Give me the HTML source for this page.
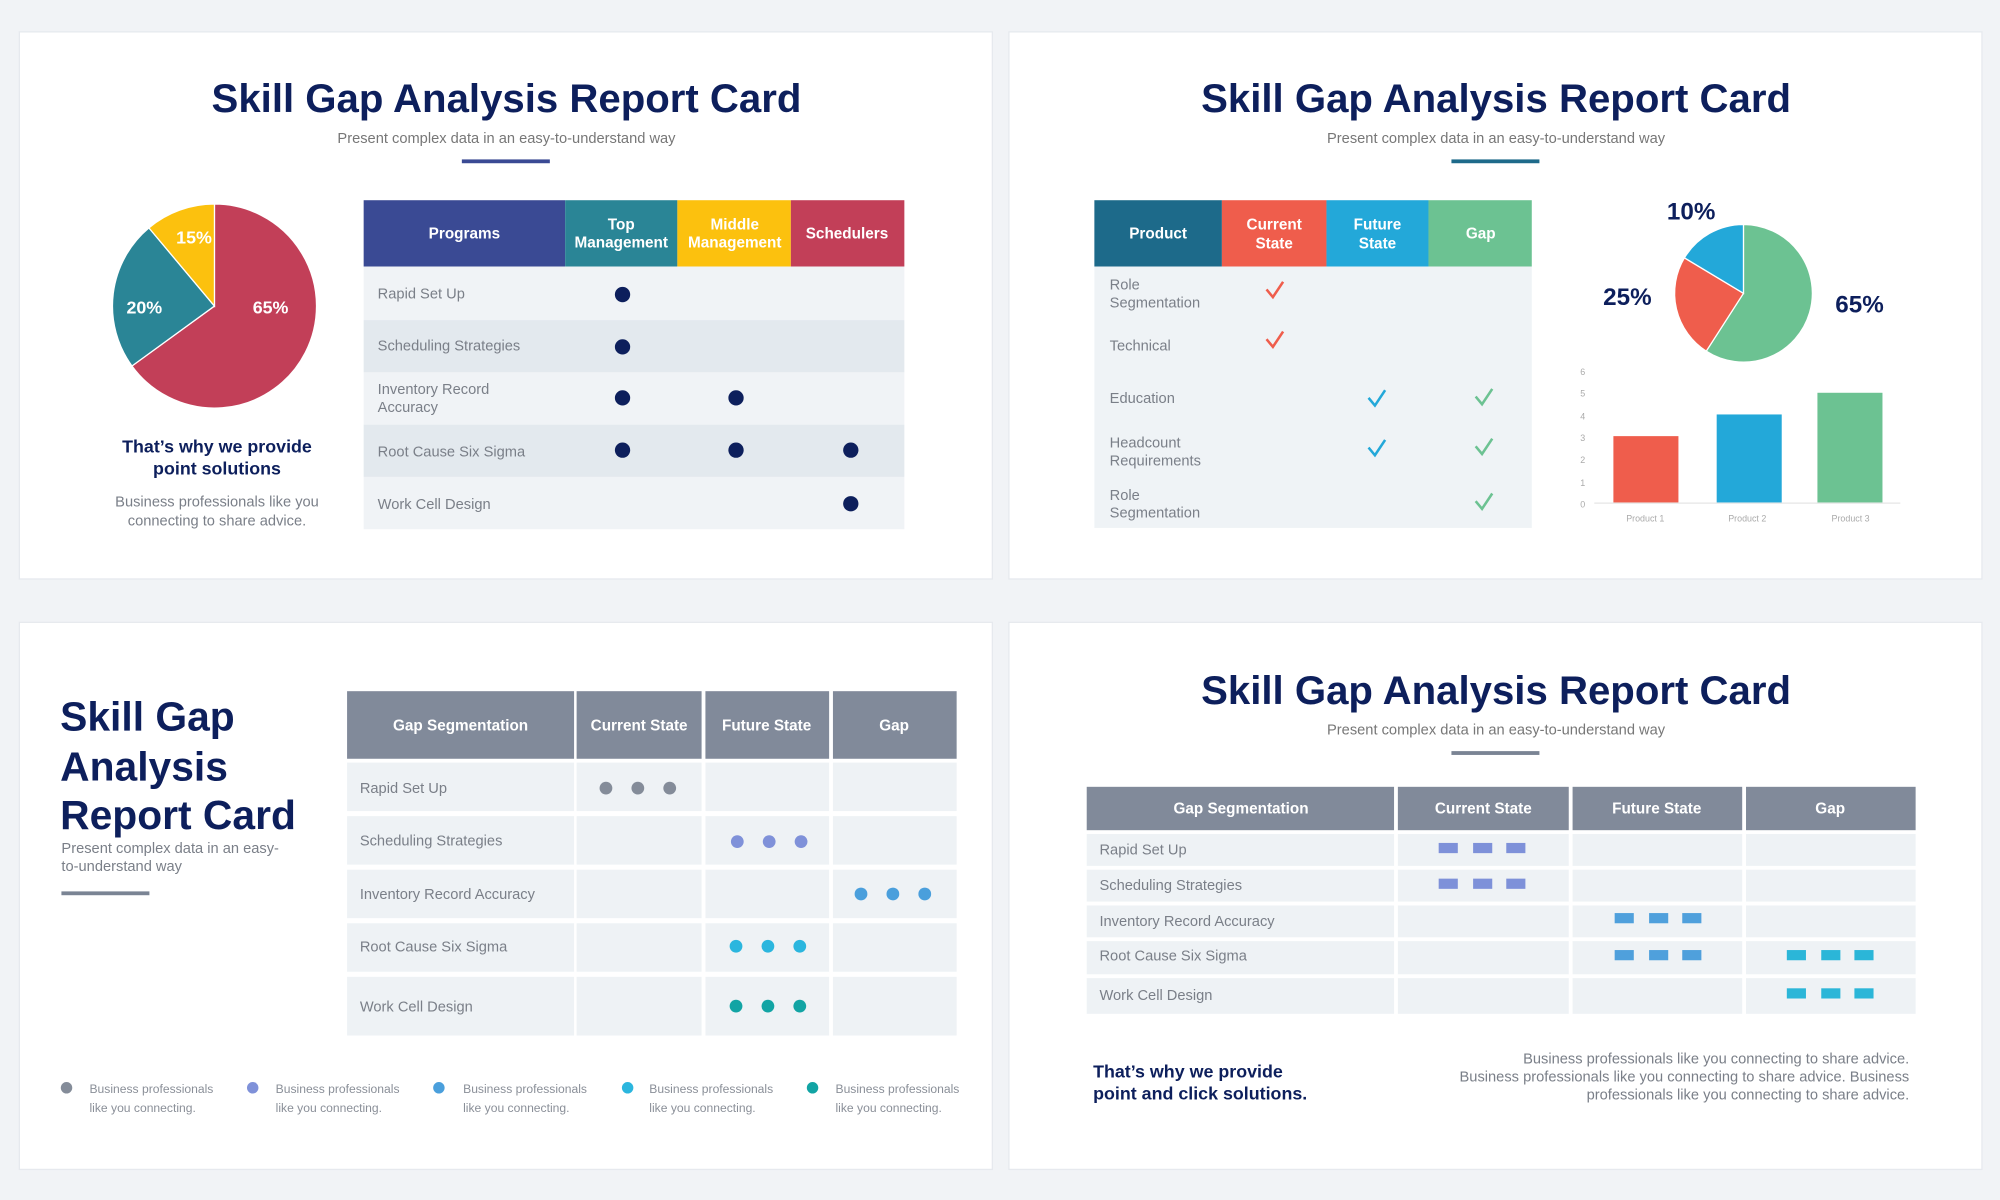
<!DOCTYPE html>
<html><head><meta charset="utf-8"><style>
html,body{margin:0;padding:0;background:#f1f3f6;width:2000px;height:1200px;overflow:hidden}
svg{display:block}
text{font-family:"Liberation Sans",sans-serif}
.t{font-weight:bold;fill:#0d1f5c;font-size:31.5px}
.s{fill:#777;font-size:11.5px}
.g{fill:#7a7f88;font-size:11.5px}
.h{fill:#fff;font-weight:bold;font-size:12px}
.w{fill:#fff;font-weight:bold;font-size:14px}
</style></head><body>
<svg width="2000" height="1200" viewBox="0 0 1568 941" xmlns="http://www.w3.org/2000/svg">
<rect width="1568" height="941" fill="#f1f3f6"/>
<g fill="#fff" stroke="#e6e9ee">
<rect x="15" y="25" width="763" height="429"/>
<rect x="791" y="25" width="763" height="429"/>
<rect x="15" y="488" width="763" height="429"/>
<rect x="791" y="488" width="763" height="429"/>
</g>

<!-- TL -->
<text class="t" x="397" y="88" text-anchor="middle">Skill Gap Analysis Report Card</text>
<text class="s" x="397" y="112" text-anchor="middle">Present complex data in an easy-to-understand way</text>
<rect x="362" y="125" width="69" height="3" fill="#3a4a94"/>
<path d="M168,240 L168,160 A80,80 0 1 1 103.3,287 Z" fill="#c23f58" stroke="#fff"/>
<path d="M168,240 L103.3,287 A80,80 0 0 1 116.6,178.7 Z" fill="#2a8596" stroke="#fff"/>
<path d="M168,240 L116.6,178.7 A80,80 0 0 1 168,160 Z" fill="#fcc10e" stroke="#fff"/>
<text class="w" x="152" y="191" text-anchor="middle">15%</text>
<text class="w" x="113" y="246" text-anchor="middle">20%</text>
<text class="w" x="212" y="246" text-anchor="middle">65%</text>
<text x="170" y="355" text-anchor="middle" font-weight="bold" font-size="14" fill="#0d1f5c">That’s why we provide</text>
<text x="170" y="372" text-anchor="middle" font-weight="bold" font-size="14" fill="#0d1f5c">point solutions</text>
<text class="g" x="170" y="397" text-anchor="middle">Business professionals like you</text>
<text class="g" x="170" y="412" text-anchor="middle">connecting to share advice.</text>
<rect x="285" y="157" width="158" height="52" fill="#3a4a94"/>
<rect x="443" y="157" width="88" height="52" fill="#2a8596"/>
<rect x="531" y="157" width="89" height="52" fill="#fcc10e"/>
<rect x="620" y="157" width="89" height="52" fill="#c23f58"/>
<text class="h" x="364" y="187" text-anchor="middle">Programs</text>
<text class="h" x="487" y="180" text-anchor="middle">Top</text><text class="h" x="487" y="194" text-anchor="middle" font-size="11">Management</text>
<text class="h" x="576" y="180" text-anchor="middle">Middle</text><text class="h" x="576" y="194" text-anchor="middle" font-size="11">Management</text>
<text class="h" x="664" y="187" text-anchor="middle">Schedulers</text>
<rect x="285" y="209" width="424" height="42" fill="#f0f3f6"/>
<rect x="285" y="251" width="424" height="41" fill="#e3e9ee"/>
<rect x="285" y="292" width="424" height="41" fill="#f0f3f6"/>
<rect x="285" y="333" width="424" height="41" fill="#e3e9ee"/>
<rect x="285" y="374" width="424" height="41" fill="#f0f3f6"/>
<g class="g"><text class="g" x="296" y="234">Rapid Set Up</text><text class="g" x="296" y="275">Scheduling Strategies</text>
<text class="g" x="296" y="309">Inventory Record</text><text class="g" x="296" y="323">Accuracy</text>
<text class="g" x="296" y="358">Root Cause Six Sigma</text><text class="g" x="296" y="399">Work Cell Design</text></g>
<g fill="#0d1f5c"><circle cx="488" cy="231" r="6"/><circle cx="488" cy="272" r="6"/><circle cx="488" cy="312" r="6"/><circle cx="577" cy="312" r="6"/>
<circle cx="488" cy="353" r="6"/><circle cx="577" cy="353" r="6"/><circle cx="667" cy="353" r="6"/><circle cx="667" cy="395" r="6"/></g>

<!-- TR -->
<text class="t" x="1173" y="88" text-anchor="middle">Skill Gap Analysis Report Card</text>
<text class="s" x="1173" y="112" text-anchor="middle">Present complex data in an easy-to-understand way</text>
<rect x="1138" y="125" width="69" height="3" fill="#1e6a8a"/>
<rect x="858" y="157" width="100" height="52" fill="#1d6a8a"/>
<rect x="958" y="157" width="82" height="52" fill="#ef5d4c"/>
<rect x="1040" y="157" width="80" height="52" fill="#23a8d9"/>
<rect x="1120" y="157" width="81" height="52" fill="#6cc292"/>
<text class="h" x="908" y="187" text-anchor="middle">Product</text>
<text class="h" x="999" y="180" text-anchor="middle">Current</text><text class="h" x="999" y="195" text-anchor="middle">State</text>
<text class="h" x="1080" y="180" text-anchor="middle">Future</text><text class="h" x="1080" y="195" text-anchor="middle">State</text>
<text class="h" x="1161" y="187" text-anchor="middle">Gap</text>
<rect x="858" y="209" width="343" height="205" fill="#eff3f6"/>
<text class="g" x="870" y="227">Role</text><text class="g" x="870" y="241">Segmentation</text>
<text class="g" x="870" y="275">Technical</text>
<text class="g" x="870" y="316">Education</text>
<text class="g" x="870" y="351">Headcount</text><text class="g" x="870" y="365">Requirements</text>
<text class="g" x="870" y="392">Role</text><text class="g" x="870" y="406">Segmentation</text>
<g fill="none" stroke-width="2">
<polyline points="993,227 998,233 1006,221" stroke="#ef5d4c"/>
<polyline points="993,266 998,272 1006,260" stroke="#ef5d4c"/>
<polyline points="1073,312 1078,318 1086,306" stroke="#23a8d9"/>
<polyline points="1073,351 1078,357 1086,345" stroke="#23a8d9"/>
<polyline points="1157,311 1162,317 1170,305" stroke="#6cc292"/>
<polyline points="1157,350 1162,356 1170,344" stroke="#6cc292"/>
<polyline points="1157,393 1162,399 1170,387" stroke="#6cc292"/>
</g>
<path d="M1367,230 L1367,176 A54,54 0 1 1 1337.8,275.4 Z" fill="#6cc292" stroke="#fff"/>
<path d="M1367,230 L1337.8,275.4 A54,54 0 0 1 1320.7,202.2 Z" fill="#ef5d4c" stroke="#fff"/>
<path d="M1367,230 L1320.7,202.2 A54,54 0 0 1 1367,176 Z" fill="#23a8d9" stroke="#fff"/>
<text x="1326" y="172" text-anchor="middle" font-weight="bold" font-size="19" fill="#0d1f5c">10%</text>
<text x="1276" y="239" text-anchor="middle" font-weight="bold" font-size="19" fill="#0d1f5c">25%</text>
<text x="1458" y="245" text-anchor="middle" font-weight="bold" font-size="19" fill="#0d1f5c">65%</text>
<g font-size="7" fill="#aaa" text-anchor="middle">
<text x="1241" y="398">0</text><text x="1241" y="381">1</text><text x="1241" y="363">2</text><text x="1241" y="346">3</text><text x="1241" y="329">4</text><text x="1241" y="311">5</text><text x="1241" y="294">6</text>
<text x="1290" y="409">Product 1</text><text x="1370" y="409">Product 2</text><text x="1451" y="409">Product 3</text></g>
<line x1="1250" y1="394.5" x2="1490" y2="394.5" stroke="#e6e6e6"/>
<rect x="1265" y="342" width="51" height="52" fill="#ef5d4c"/>
<rect x="1346" y="325" width="51" height="69" fill="#23a8d9"/>
<rect x="1425" y="308" width="51" height="86" fill="#6cc292"/>

<!-- BL -->
<text x="47" y="573" font-weight="bold" font-size="32" fill="#0d1f5c">Skill Gap</text>
<text x="47" y="612" font-weight="bold" font-size="32" fill="#0d1f5c">Analysis</text>
<text x="47" y="650" font-weight="bold" font-size="32" fill="#0d1f5c">Report Card</text>
<text class="g" x="48" y="669">Present complex data in an easy-</text>
<text class="g" x="48" y="683">to-understand way</text>
<rect x="48" y="699" width="69" height="3" fill="#7a8494"/>
<g fill="#818a9a"><rect x="272" y="542" width="178" height="53"/><rect x="452" y="542" width="98" height="53"/><rect x="553" y="542" width="97" height="53"/><rect x="653" y="542" width="97" height="53"/></g>
<text class="h" x="361" y="573" text-anchor="middle" font-size="13">Gap Segmentation</text>
<text class="h" x="501" y="573" text-anchor="middle" font-size="13">Current State</text>
<text class="h" x="601" y="573" text-anchor="middle" font-size="13">Future State</text>
<text class="h" x="701" y="573" text-anchor="middle" font-size="13">Gap</text>
<g fill="#eef2f5">
<rect x="272" y="598" width="178" height="38"/><rect x="452" y="598" width="98" height="38"/><rect x="553" y="598" width="97" height="38"/><rect x="653" y="598" width="97" height="38"/>
<rect x="272" y="640" width="178" height="38"/><rect x="452" y="640" width="98" height="38"/><rect x="553" y="640" width="97" height="38"/><rect x="653" y="640" width="97" height="38"/>
<rect x="272" y="682" width="178" height="38"/><rect x="452" y="682" width="98" height="38"/><rect x="553" y="682" width="97" height="38"/><rect x="653" y="682" width="97" height="38"/>
<rect x="272" y="724" width="178" height="38"/><rect x="452" y="724" width="98" height="38"/><rect x="553" y="724" width="97" height="38"/><rect x="653" y="724" width="97" height="38"/>
<rect x="272" y="766" width="178" height="46"/><rect x="452" y="766" width="98" height="46"/><rect x="553" y="766" width="97" height="46"/><rect x="653" y="766" width="97" height="46"/>
</g>
<text class="g" x="282" y="622">Rapid Set Up</text>
<text class="g" x="282" y="663">Scheduling Strategies</text>
<text class="g" x="282" y="705">Inventory Record Accuracy</text>
<text class="g" x="282" y="746">Root Cause Six Sigma</text>
<text class="g" x="282" y="793">Work Cell Design</text>
<g fill="#848c99"><circle cx="475" cy="618" r="5"/><circle cx="500" cy="618" r="5"/><circle cx="525" cy="618" r="5"/></g>
<g fill="#7f91d9"><circle cx="578" cy="660" r="5"/><circle cx="603" cy="660" r="5"/><circle cx="628" cy="660" r="5"/></g>
<g fill="#4a9fdc"><circle cx="675" cy="701" r="5"/><circle cx="700" cy="701" r="5"/><circle cx="725" cy="701" r="5"/></g>
<g fill="#2bb6de"><circle cx="577" cy="742" r="5"/><circle cx="602" cy="742" r="5"/><circle cx="627" cy="742" r="5"/></g>
<g fill="#12a4a4"><circle cx="577" cy="789" r="5"/><circle cx="602" cy="789" r="5"/><circle cx="627" cy="789" r="5"/></g>
<g font-size="9.5" fill="#8a8f98">
<circle cx="52" cy="853" r="4.5" fill="#848c99"/><text x="70" y="857">Business professionals</text><text x="70" y="872">like you connecting.</text>
<circle cx="198" cy="853" r="4.5" fill="#7f91d9"/><text x="216" y="857">Business professionals</text><text x="216" y="872">like you connecting.</text>
<circle cx="344" cy="853" r="4.5" fill="#4a9fdc"/><text x="363" y="857">Business professionals</text><text x="363" y="872">like you connecting.</text>
<circle cx="492" cy="853" r="4.5" fill="#2bb6de"/><text x="509" y="857">Business professionals</text><text x="509" y="872">like you connecting.</text>
<circle cx="637" cy="853" r="4.5" fill="#12a4a4"/><text x="655" y="857">Business professionals</text><text x="655" y="872">like you connecting.</text>
</g>

<!-- BR -->
<text class="t" x="1173" y="552" text-anchor="middle">Skill Gap Analysis Report Card</text>
<text class="s" x="1173" y="576" text-anchor="middle">Present complex data in an easy-to-understand way</text>
<rect x="1138" y="589" width="69" height="3" fill="#7a8494"/>
<g fill="#818a9a"><rect x="852" y="617" width="241" height="34"/><rect x="1096" y="617" width="134" height="34"/><rect x="1233" y="617" width="133" height="34"/><rect x="1369" y="617" width="133" height="34"/></g>
<text class="h" x="973" y="638" text-anchor="middle" font-size="12.5">Gap Segmentation</text>
<text class="h" x="1163" y="638" text-anchor="middle" font-size="12.5">Current State</text>
<text class="h" x="1299" y="638" text-anchor="middle" font-size="12.5">Future State</text>
<text class="h" x="1435" y="638" text-anchor="middle" font-size="12.5">Gap</text>
<g fill="#eef2f5">
<rect x="852" y="654" width="241" height="25"/><rect x="1096" y="654" width="134" height="25"/><rect x="1233" y="654" width="133" height="25"/><rect x="1369" y="654" width="133" height="25"/>
<rect x="852" y="682" width="241" height="25"/><rect x="1096" y="682" width="134" height="25"/><rect x="1233" y="682" width="133" height="25"/><rect x="1369" y="682" width="133" height="25"/>
<rect x="852" y="710" width="241" height="25"/><rect x="1096" y="710" width="134" height="25"/><rect x="1233" y="710" width="133" height="25"/><rect x="1369" y="710" width="133" height="25"/>
<rect x="852" y="738" width="241" height="26"/><rect x="1096" y="738" width="134" height="26"/><rect x="1233" y="738" width="133" height="26"/><rect x="1369" y="738" width="133" height="26"/>
<rect x="852" y="767" width="241" height="28"/><rect x="1096" y="767" width="134" height="28"/><rect x="1233" y="767" width="133" height="28"/><rect x="1369" y="767" width="133" height="28"/>
</g>
<text class="g" x="862" y="670">Rapid Set Up</text>
<text class="g" x="862" y="698">Scheduling Strategies</text>
<text class="g" x="862" y="726">Inventory Record Accuracy</text>
<text class="g" x="862" y="753">Root Cause Six Sigma</text>
<text class="g" x="862" y="784">Work Cell Design</text>
<g fill="#7e91d9"><rect x="1128" y="661" width="15" height="8"/><rect x="1155" y="661" width="15" height="8"/><rect x="1181" y="661" width="15" height="8"/>
<rect x="1128" y="689" width="15" height="8"/><rect x="1155" y="689" width="15" height="8"/><rect x="1181" y="689" width="15" height="8"/></g>
<g fill="#4fa0dc"><rect x="1266" y="716" width="15" height="8"/><rect x="1293" y="716" width="15" height="8"/><rect x="1319" y="716" width="15" height="8"/>
<rect x="1266" y="745" width="15" height="8"/><rect x="1293" y="745" width="15" height="8"/><rect x="1319" y="745" width="15" height="8"/></g>
<g fill="#2bb6d8"><rect x="1401" y="745" width="15" height="8"/><rect x="1428" y="745" width="15" height="8"/><rect x="1454" y="745" width="15" height="8"/>
<rect x="1401" y="775" width="15" height="8"/><rect x="1428" y="775" width="15" height="8"/><rect x="1454" y="775" width="15" height="8"/></g>
<text x="857" y="845" font-weight="bold" font-size="14" fill="#0d1f5c">That’s why we provide</text>
<text x="857" y="862" font-weight="bold" font-size="14" fill="#0d1f5c">point and click solutions.</text>
<text class="g" x="1497" y="834" text-anchor="end">Business professionals like you connecting to share advice.</text>
<text class="g" x="1497" y="848" text-anchor="end">Business professionals like you connecting to share advice. Business</text>
<text class="g" x="1497" y="862" text-anchor="end">professionals like you connecting to share advice.</text>
</svg>
</body></html>
